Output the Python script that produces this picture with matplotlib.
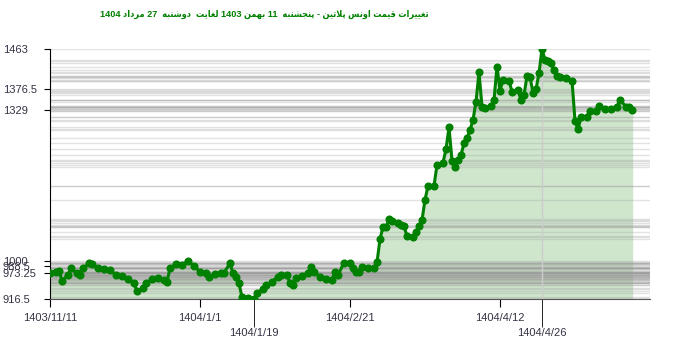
import re
import matplotlib
matplotlib.use('Agg')
import matplotlib.pyplot as plt

# -------------------------------------------------------------
# Data: platinum ounce price (days since 1403/11/11)
# -------------------------------------------------------------
days = [0, 2, 3, 4, 6, 7, 9, 10, 11, 13, 14, 16, 18, 20, 22, 24, 26, 28, 29, 31,
        32, 34, 36, 38, 39, 40, 42, 44, 46, 48, 50, 52, 53, 55, 57, 58, 60, 61, 62, 63,
        64, 66, 68, 69, 71, 72, 74, 76, 77, 79, 80, 81, 82, 84, 86, 87, 88, 90, 92, 94,
        95, 96, 98, 100, 101, 102, 103, 104, 106, 108, 109, 110, 111, 112, 113, 114, 116, 117, 118, 119,
        121, 122, 123, 124, 125, 126, 128, 129, 131, 132, 133, 134, 135, 136, 137, 138, 139, 140, 141, 142,
        143, 144, 145, 147, 148, 149, 150, 151, 153, 154, 156, 157, 158, 159, 160, 161, 162, 163, 164, 165,
        166, 167, 168, 169, 170, 172, 174, 175, 176, 177, 179, 180, 182, 183, 185, 187, 189, 190, 192, 193,
        194]
prices = [973.25, 976, 977.7, 956.5, 969, 983.6, 972.7, 969, 983.6, 994.5, 993, 983.6, 981.4, 979.9, 969, 966.8, 959.6, 950.8, 934.6, 939.9,
          950.8, 959.6, 961.8, 958, 954.3, 983.6, 993, 990.8, 999.6, 988.6, 976, 972.7, 964, 971.2, 972.7, 974, 994.5, 972.7, 965.3, 950.8,
          920, 919, 916.5, 930.3, 937.7, 947, 954.3, 965.3, 969, 969, 950.8, 947, 961.8, 966.8, 972.7, 987.2, 976, 965.3, 959.6, 958,
          976, 969, 995.9, 995.9, 985, 976, 976, 987.2, 983.6, 983.6, 996.7, 1047, 1074.5, 1073, 1090.7, 1087.7, 1082, 1077.6, 1076, 1054,
          1052.7, 1063.6, 1076, 1089, 1133, 1163.5, 1163.5, 1209.4, 1214.5, 1243.7, 1291.8, 1218.9, 1204.4, 1220.4, 1231.3, 1256.8, 1267.8, 1285.8, 1307.8, 1347.8,
          1412, 1337, 1334.7, 1338.4, 1351.5, 1424.4, 1371.9, 1395.2, 1393.7, 1369.7, 1373.4, 1351.5, 1362.4, 1404, 1402.4, 1367.5, 1374.9, 1409.9, 1463, 1439,
          1437.4, 1433.1, 1417.5, 1404, 1401.2, 1399, 1393.7, 1306.3, 1287.5, 1313.7, 1315, 1328.1, 1328.1, 1338.4, 1331.2, 1331.2, 1337, 1351.5, 1337, 1337,
          1329]

ytick_vals = [916.5, 973.25, 988.5, 1000, 1329, 1376.5, 1463]
xtick_days = [0, 50, 100, 150]
xtick_labels = ['1403/11/11', '1404/1/1', '1404/2/21', '1404/4/12']
low_day, low_label = 68, '1404/1/19'
high_day, high_label = 164, '1404/4/26'

title = 'تغییرات قیمت اونس پلاتین - پنجشنبه  11 بهمن 1403 لغایت  دوشنبه  27 مرداد 1404'

# -------------------------------------------------------------
# Minimal Persian shaping (matplotlib does no RTL / joining)
# -------------------------------------------------------------
DUAL = {'ب': (0xFE8F, 0xFE90, 0xFE91, 0xFE92), 'ت': (0xFE95, 0xFE96, 0xFE97, 0xFE98),
        'ج': (0xFE9D, 0xFE9E, 0xFE9F, 0xFEA0), 'س': (0xFEB1, 0xFEB2, 0xFEB3, 0xFEB4),
        'ش': (0xFEB5, 0xFEB6, 0xFEB7, 0xFEB8), 'غ': (0xFECD, 0xFECE, 0xFECF, 0xFED0),
        'ق': (0xFED5, 0xFED6, 0xFED7, 0xFED8), 'ل': (0xFEDD, 0xFEDE, 0xFEDF, 0xFEE0),
        'م': (0xFEE1, 0xFEE2, 0xFEE3, 0xFEE4), 'ن': (0xFEE5, 0xFEE6, 0xFEE7, 0xFEE8),
        'ه': (0xFEE9, 0xFEEA, 0xFEEB, 0xFEEC), 'پ': (0xFB56, 0xFB57, 0xFB58, 0xFB59),
        'ی': (0xFBFC, 0xFBFD, 0xFBFE, 0xFBFF)}
RIGHT = {'ا': (0xFE8D, 0xFE8E), 'د': (0xFEA9, 0xFEAA), 'ر': (0xFEAD, 0xFEAE), 'و': (0xFEED, 0xFEEE)}


def shape(text):
    out = []
    i = 0
    while i < len(text):
        c = text[i]
        linked = i > 0 and text[i - 1] in DUAL
        if c == 'ل' and i + 1 < len(text) and text[i + 1] == 'ا':
            out.append(chr(0xFEFC if linked else 0xFEFB))
            i += 2
            continue
        if c in DUAL:
            nxt = i + 1 < len(text) and (text[i + 1] in DUAL or text[i + 1] in RIGHT)
            idx = 3 if (linked and nxt) else 2 if nxt else 1 if linked else 0
            out.append(chr(DUAL[c][idx]))
        elif c in RIGHT:
            out.append(chr(RIGHT[c][1 if linked else 0]))
        else:
            out.append(c)
        i += 1
    vis = ''.join(out)[::-1]
    return re.sub(r'\d+', lambda m: m.group(0)[::-1], vis)


# -------------------------------------------------------------
# Figure
# -------------------------------------------------------------
plt.rcParams['font.family'] = ['Liberation Sans', 'DejaVu Sans']
fig = plt.figure(figsize=(7, 3.52), dpi=100)
ax = fig.add_axes([50 / 700, 1 - 299 / 352, 600 / 700, 250 / 352])

ax.set_xlim(0, 200)
ax.set_ylim(916.5, 1463)

# gray lines at every price level
for p in prices:
    ax.axhline(p, color='#9a9a9a', alpha=0.28, linewidth=1, zorder=2)

ax.fill_between(days, prices, 916.5, color='#cfe6cc', zorder=1)
ax.axvline(high_day, color='#cccccc', linewidth=1, zorder=2)
ax.plot(days, prices, color='#008000', linewidth=2.2, marker='o', markersize=4.8, zorder=3)

for s in ['top', 'right']:
    ax.spines[s].set_visible(False)
ax.spines['left'].set_color('black')
ax.spines['bottom'].set_color('#555555')

# y ticks, labels flushed to the left edge of the figure
ax.set_yticks(ytick_vals)
ax.set_yticklabels([f'{v:g}' for v in ytick_vals])
ax.tick_params(axis='y', length=4, color='black', labelsize=8, labelcolor='#333344', pad=30)
for lab in ax.get_yticklabels():
    lab.set_horizontalalignment('left')

# x ticks: regular dates on top row, low/high dates on lower row
ax.set_xticks(xtick_days)
ax.set_xticklabels(xtick_labels)
ax.set_xticks([low_day, high_day], minor=True)
ax.set_xticklabels([low_label, high_label], minor=True)
ax.tick_params(axis='x', which='major', length=6, color='black', labelsize=8, labelcolor='#333344', pad=4)
ax.tick_params(axis='x', which='minor', length=20, color='black', labelsize=8, labelcolor='#333344', pad=1)
ax.xaxis.get_minor_ticks()[1].tick1line.set_color('#cccccc')

fig.text(264 / 700, 1 - 14 / 352, shape(title), ha='center', va='center',
         color='#008000', fontsize=6.6, fontweight='bold', fontstretch='condensed',
         family=['Liberation Sans', 'DejaVu Sans'])

plt.savefig('out.png', dpi=100)
plt.close()
